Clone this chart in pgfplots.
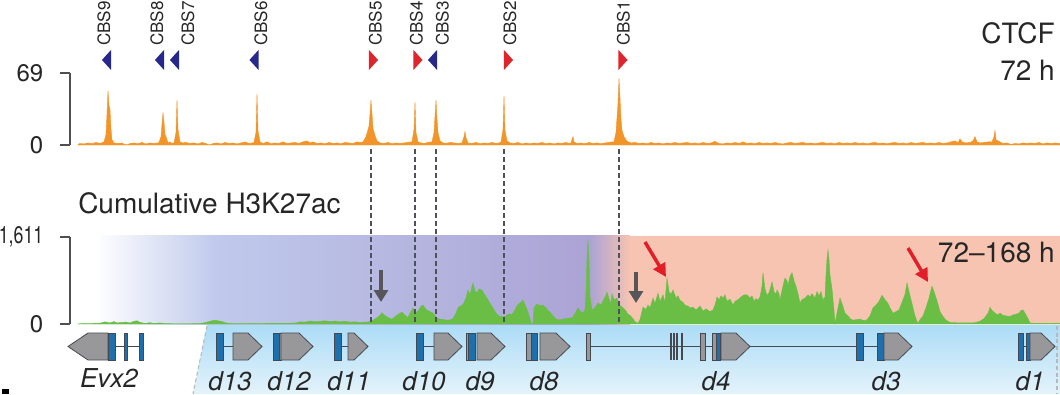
\documentclass[border=0pt]{standalone}
\usepackage{fontspec}
\setmainfont{TeX Gyre Heros}
\usepackage{pgfplots}
\pgfplotsset{compat=1.18}
\usetikzlibrary{arrows.meta}

\definecolor{ctcf}{RGB}{243,148,40}
\definecolor{navy}{RGB}{38,40,140}
\definecolor{cbsred}{RGB}{222,36,44}
\definecolor{kgreen}{RGB}{106,190,70}
\definecolor{lav}{RGB}{192,202,236}
\definecolor{purp}{RGB}{171,163,212}
\definecolor{salmon}{RGB}{247,196,178}
\definecolor{exon}{RGB}{30,112,172}
\definecolor{ggray}{RGB}{152,152,155}
\definecolor{gedge}{RGB}{70,72,80}
\definecolor{tracktop}{RGB}{172,220,246}
\definecolor{trackbot}{RGB}{228,243,251}
\definecolor{axgray}{RGB}{80,80,80}
\definecolor{dashgray}{RGB}{80,80,90}
\definecolor{arrgray}{RGB}{85,85,90}
\definecolor{arrred}{RGB}{226,30,40}

\pgfdeclareplotmark{cbsL}{%
  \pgfpathmoveto{\pgfqpoint{-3.4pt}{0pt}}%
  \pgfpathlineto{\pgfqpoint{3.4pt}{7.5pt}}%
  \pgfpathlineto{\pgfqpoint{3.4pt}{-7.5pt}}%
  \pgfpathclose\pgfusepathqfill}
\pgfdeclareplotmark{cbsR}{%
  \pgfpathmoveto{\pgfqpoint{3.4pt}{0pt}}%
  \pgfpathlineto{\pgfqpoint{-3.4pt}{7.5pt}}%
  \pgfpathlineto{\pgfqpoint{-3.4pt}{-7.5pt}}%
  \pgfpathclose\pgfusepathqfill}

\newcommand{\pentR}[3]{\filldraw[fill=ggray, draw=gedge, line width=0.6pt] (#1,333) -- (#2,333) -- (#3,346.5) -- (#2,360) -- (#1,360) -- cycle;}
\newcommand{\ex}[2]{\filldraw[fill=exon, draw=gedge, line width=0.5pt] (#1,333) rectangle (#2,360);}
\newcommand{\gx}[2]{\filldraw[fill=ggray, draw=gedge, line width=0.5pt] (#1,333) rectangle (#2,360);}
\newcommand{\intr}[2]{\draw[gedge, line width=0.6pt] (#1,346.5) -- (#2,346.5);}
\newcommand{\vl}[1]{\draw[gedge, line width=0.8pt] (#1,333) -- (#1,360);}

\pgfplotstableread{
x y
78 0.5
80 1.5
84 1
88 2
92 1.2
96 2.5
100 1.5
104 3
106 10
107 30
108 52
109 38
110 34
111 15
112 5
114 2
118 1.5
122 2
125 0.3
128 0.3
130 1.5
134 2
138 1.2
142 2.5
146 1
150 2
154 1.5
158 2
159 2.5
161 8
162 20
163 31
164 22
165 10
166 8
168 2
170 3
172 1.5
174 2
176 12
177 43
178 15
180 3
183 2
186 2.5
190 1.5
194 2
198 1
202 2.5
206 1.5
208 0.3
211 0.3
213 1.5
217 2
221 1
225 2.5
229 1.5
233 2
237 1
241 2
245 3
249 1.5
252 2
254 2.5
256 12
257 49
258 14
260 3
263 1.5
267 3
271 1.2
275 2
279 1.5
283 3
287 1.5
291 2
295 2.5
299 1.5
303 3
307 4
310 2
313 3
317 1.5
321 2
325 1.2
329 2.5
333 1.5
337 2
341 1.2
345 2.5
349 2
353 1.5
357 3
360 2.5
363 3
366 8
369 18
370 30
371 43
372 30
373 16
375 9
377 4
380 2
384 1.5
388 2.5
392 1.2
396 2
400 1.5
404 2
408 2.5
412 3
414 15
415 41
416 12
418 3
421 2
424 1.5
428 2.5
432 3
434 12
436 43
437 25
438 12
440 4
443 2
446 1.5
450 2.5
454 2
458 1.5
462 2
464 8
465 13
466 7
468 2
472 1.5
476 2.5
480 1.2
484 2
488 1.5
492 2.5
496 1.5
499 2
501 3
503 15
504 47
505 14
507 4
510 2
514 1.5
518 2.5
522 1
526 2
530 1.2
534 2
538 1.5
542 2.5
546 1.2
550 2
554 1
558 2
562 1.5
566 2.5
569 1.5
571 2
573 8
574 3
577 1.5
581 2
585 1.2
589 2.5
593 1.5
597 2
601 1.2
605 2
609 2.5
612 3
614 3
616 12
618 40
619 64
620 45
621 25
622 14
624 8
626 5
628 3
631 2
635 2.5
639 1.5
643 2
647 1.2
651 2.5
655 1.5
659 2
663 1
667 2
671 1.5
675 2.5
679 1.5
683 2
687 2.5
691 1.5
695 2
699 1.2
703 2.5
707 1.5
711 2
715 3.5
719 1.5
723 1
727 2
731 1.5
735 2.5
739 1.5
743 3
747 1.5
751 2
755 1.2
759 2.5
763 1.5
767 2
771 1.5
775 2.5
779 1.5
783 1
787 2
791 2.5
795 1.5
799 2
803 2.5
807 1.5
811 2
815 1.2
819 2
823 2.5
827 1.5
831 2
835 1.2
839 2.5
843 1.5
847 2
851 1.5
855 2.5
859 1.5
863 2
867 1.2
871 2
875 2.5
879 1.5
883 2
887 1.2
891 2
895 2.5
899 1.5
903 2
907 1.2
911 2.5
915 1.5
919 2
923 2.5
927 1.5
931 2
935 1.5
939 2.5
943 1.5
947 2
951 3
955 4
958 2
960 6
962 3
966 2
970 2.5
973 4
975 8
977 3
980 2
984 2.5
988 3
992 3
994 8
995 14
996 5
998 4
1000 3
1003 1.5
1007 2
1011 0.5
1015 1.5
1019 1
1023 2
1027 1.5
1031 2
1035 1.5
1039 2.5
1043 1
1047 2
1051 1.5
1055 2
1060 1.5
}\ctcfdata

\pgfplotstableread{
x y
78 5
90 8
100 15
105 40
110 20
114 45
117 20
122 30
126 35
130 20
134 50
137 60
140 30
145 10
150 25
153 10
160 20
165 8
175 5
190 5
200 10
205 25
210 50
214 70
218 60
222 45
226 20
230 10
240 8
250 10
260 8
270 12
280 10
290 15
296 20
300 40
305 35
310 55
315 45
320 50
325 60
330 45
335 55
340 40
345 50
350 35
355 40
360 30
365 35
370 40
375 90
380 160
382 210
384 170
388 120
392 90
396 150
400 200
402 220
405 160
408 120
410 200
413 300
415 200
418 240
421 330
423 350
426 270
430 230
433 200
437 110
440 90
444 80
447 70
450 75
453 100
456 200
458 300
460 330
463 360
466 480
468 630
470 540
472 700
473 760
475 620
477 570
479 650
482 630
484 560
487 480
490 380
493 300
496 200
499 150
503 130
506 150
509 190
511 170
513 200
516 300
518 360
520 390
523 440
525 360
528 220
530 100
531 10
533 10
534 300
537 370
540 340
543 350
546 300
548 250
550 220
553 150
556 90
560 75
565 100
570 110
573 130
576 230
578 300
580 240
583 200
585 260
586 600
587 1200
588 1555
589 1200
590 500
592 260
595 300
598 390
601 350
603 430
605 500
607 590
609 470
611 380
612 560
614 450
617 480
619 350
621 330
623 300
626 240
628 180
630 160
633 100
635 40
638 15
640 80
643 310
646 270
648 350
650 300
653 480
655 380
658 570
660 420
663 540
665 400
667 850
669 600
671 550
673 630
676 480
678 520
680 440
683 400
685 350
688 330
690 300
693 310
696 260
700 330
703 240
706 280
710 230
713 260
715 350
717 500
719 450
721 520
723 480
725 540
727 420
730 460
733 350
735 420
738 450
741 500
744 540
747 540
750 480
752 520
754 420
756 470
758 440
760 500
762 700
763 950
765 650
767 530
769 580
771 700
772 780
774 600
776 550
777 630
779 560
780 440
782 620
784 780
785 850
787 800
788 720
790 880
792 950
794 800
796 700
798 560
800 390
802 450
805 480
808 540
810 500
812 560
815 480
817 600
819 520
821 600
823 450
825 500
826 900
827 1200
828 1370
829 1200
830 900
832 650
834 250
835 10
837 200
840 480
842 380
845 200
848 150
850 100
853 70
856 80
860 90
864 60
867 80
870 150
873 300
876 350
879 420
882 530
885 450
888 380
890 300
893 200
896 230
899 260
902 400
905 550
907 760
909 600
911 450
913 300
915 150
917 50
918 10
920 80
923 150
926 300
929 480
932 700
934 600
937 430
940 230
943 140
946 70
950 30
960 20
970 20
975 25
980 50
984 100
988 200
990 310
992 250
995 200
998 170
1000 200
1003 160
1006 150
1010 140
1013 170
1016 180
1019 200
1021 250
1023 260
1025 200
1028 100
1030 20
1035 10
1045 15
1060 10
}\acdata

\pgfplotsset{trk/.style={scale only axis, width=742.5pt, xmin=70, xmax=1060,
  axis x line=none, axis y line=left, axis line style={-, axgray, line width=1.1pt},
  xtick=\empty, tick align=outside, major tick length=7.5pt,
  ytick style={axgray, line width=1.1pt},
  yticklabel style={font=\fontsize{18}{18}\selectfont, text=black!85, xshift=-9pt},
  /pgf/number format/assume math mode=true,
  anchor=south west, clip=false}}

\begin{document}
\begin{tikzpicture}[x=0.75pt, y=-0.75pt]
\useasboundingbox (0,0) rectangle (1060,394);

% CTCF track
\begin{axis}[trk, at={(52.5pt,-108.75pt)}, height=54pt, ymin=0, ymax=69,
  ytick={0,69}, yticklabels={0,69}]
\addplot[fill=ctcf, draw=ctcf, line width=0.3pt] table[x=x,y=y] {\ctcfdata} \closedcycle;
\addplot[only marks, mark=cbsL, color=navy, mark options={fill=navy, draw=none}]
  coordinates {(106.5,81.5) (159.5,81.5) (174.5,81.5) (254,81.5) (432.5,81.5)};
\addplot[only marks, mark=cbsR, color=cbsred, mark options={fill=cbsred, draw=none}]
  coordinates {(373.5,81.5) (418,81.5) (508.5,81.5) (623,81.5)};
\end{axis}

% H3K27ac track
\begin{axis}[trk, at={(52.5pt,-243pt)}, height=65.25pt, ymin=0, ymax=1611,
  ytick={0,1611}, yticklabels={0,{\scalebox{0.74}[1]{1,611}}}]
\fill[left color=white, right color=lav] (axis cs:95,0) rectangle (axis cs:215,1630);
\fill[left color=lav, right color=purp] (axis cs:215,0) rectangle (axis cs:590,1630);
\fill[left color=purp, right color=salmon] (axis cs:590,0) rectangle (axis cs:630,1630);
\fill[salmon] (axis cs:630,0) rectangle (axis cs:1060,1630);
\addplot[fill=kgreen, draw=kgreen, line width=0.3pt] table[x=x,y=y] {\acdata} \closedcycle;
\end{axis}

% dashed CBS lines
\foreach \xx in {371,415,436,504,619}{
  \draw[dashgray, line width=1.6pt, dash pattern=on 3.5pt off 2.5pt] (\xx,149) -- (\xx,322);
}

% CBS labels
\begin{scope}[every node/.style={rotate=90, anchor=west, inner sep=0pt, font=\fontsize{12.8}{12.8}\selectfont, text=black!85}]
\node at (104,46) {CBS9};
\node at (157,46) {CBS8};
\node at (188,46) {CBS7};
\node at (261,46) {CBS6};
\node at (375.5,46) {CBS5};
\node at (416.5,46) {CBS4};
\node at (442.5,46) {CBS3};
\node at (510,46) {CBS2};
\node at (623.5,46) {CBS1};
\end{scope}

% titles
\node[anchor=base east, inner sep=0pt, font=\fontsize{21}{21}\selectfont, text=black!85] at (1055,43) {CTCF};
\node[anchor=base east, inner sep=0pt, font=\fontsize{21}{21}\selectfont, text=black!85] at (1055,80) {72 h};
\node[anchor=base east, inner sep=0pt, font=\fontsize{21}{21}\selectfont, text=black!85] at (1055,262) {72–168 h};
\node[anchor=base west, inner sep=0pt, font=\fontsize{21}{21}\selectfont, text=black!85] at (78,213) {Cumulative H3K27ac};

% arrows
\draw[-{Triangle[length=9pt, width=10.5pt]}, line width=3pt, arrgray] (381,270) -- (381,302);
\draw[-{Triangle[length=9pt, width=10.5pt]}, line width=3pt, arrgray] (636,272) -- (636,303);
\draw[-{Triangle[length=10pt, width=10pt]}, line width=2.6pt, arrred] (645,242) -- (666,277);
\draw[-{Triangle[length=10pt, width=10pt]}, line width=2.6pt, arrred] (908,248) -- (928,282);

% gene track background
\shade[top color=tracktop, bottom color=trackbot] (207,325) -- (1060,325) -- (1060,394) -- (193,394) -- cycle;
\draw[gray!55, line width=0.8pt, dash pattern=on 3pt off 2pt] (207,326) -- (193,394);
\draw[gray!55, line width=0.8pt, dash pattern=on 3pt off 2pt] (1057,326) -- (1057,394);

% genes
% Evx2
\intr{115}{143}
\filldraw[fill=ggray, draw=gedge, line width=0.6pt] (108,333) -- (88,333) -- (68,346.5) -- (88,360) -- (108,360) -- cycle;
\ex{108}{115} \ex{124}{127} \ex{139}{143}
% d13
\intr{223}{233} \ex{216}{223} \pentR{233}{248}{262}
% d12
\ex{273}{279} \gx{279}{281} \pentR{281}{299}{313}
% d11
\intr{341}{348} \ex{334}{341} \pentR{348}{354}{368}
% d10
\intr{423}{434} \ex{416}{423} \pentR{434}{448}{462}
% d9
\gx{466}{468} \ex{468}{475} \pentR{477}{491}{505}
% d8
\gx{526}{531} \ex{531}{537} \pentR{540}{556}{570}
% d4
\intr{589}{721} \gx{586}{590}
\vl{671} \vl{674} \vl{677} \vl{682}
\gx{700}{705} \gx{712}{716} \ex{716}{720} \pentR{721}{736}{750}
% d3
\intr{750}{884} \ex{856}{863} \ex{877}{884} \pentR{884}{898}{912}
% d1
\intr{1023}{1026} \ex{1018}{1023} \ex{1026}{1030} \pentR{1030}{1041}{1055}

% gene labels
\begin{scope}[every node/.style={anchor=base, inner sep=0pt, font=\fontsize{19.5}{19.5}\selectfont\itshape, text=black!85}]
\node at (109,387) {Evx2};
\node at (230,390) {d13};
\node at (289,390) {d12};
\node at (349,390) {d11};
\node at (424,390) {d10};
\node at (480,390) {d9};
\node at (544,390) {d8};
\node at (716,390) {d4};
\node at (886,390) {d3};
\node at (1030,390) {d1};
\end{scope}

\fill[black] (2,389) rectangle (9,394);
\end{tikzpicture}
\end{document}
